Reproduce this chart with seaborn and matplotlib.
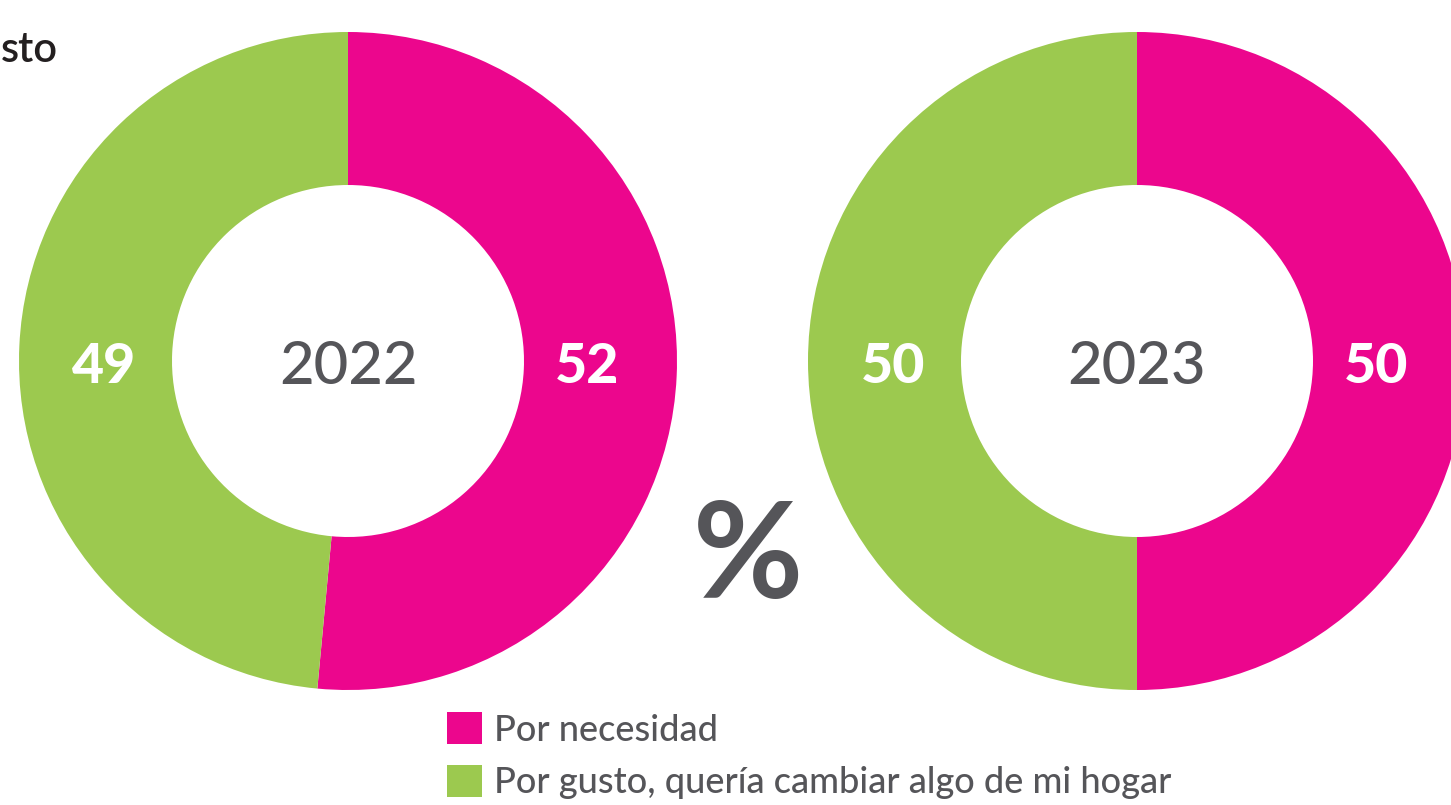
import matplotlib
matplotlib.use("Agg")
import matplotlib.pyplot as plt
import seaborn as sns

# ---- data ----
years = ["2022", "2023"]
categories = ["Por necesidad", "Por gusto, quería cambiar algo de mi hogar"]
values_2022 = [52, 49]
values_2023 = [50, 50]
series = [values_2022, values_2023]
title_fragment = "sto"
unit_text = "%"

colors = ["#EC068D", "#9CC94F"]
text_gray = "#555559"

sns.set_theme(style="white")
plt.rcParams["font.family"] = ["Lato", "DejaVu Sans"]

W, H = 1451, 805
fig = plt.figure(figsize=(W / 100, H / 100), dpi=100)
ax = fig.add_axes([0, 0, 1, 1])

centers = [(348, H - 361), (1137, H - 361)]
R_out, ring = 329, 153
label_r_right, label_r_left = 239, 244
dy = -6

wedge_handles = None
for (cx, cy), vals, yr in zip(centers, series, years):
    wedges, _ = ax.pie(vals, colors=colors, startangle=90, counterclock=False,
                       radius=R_out, center=(cx, cy), frame=True,
                       wedgeprops=dict(width=ring, linewidth=0))
    if wedge_handles is None:
        wedge_handles = wedges
    ax.text(cx, cy + dy, yr, ha="center", va="center", fontsize=43,
            fontweight="medium", color=text_gray)
    ax.text(cx + label_r_right, cy + dy, str(vals[0]), ha="center", va="center",
            fontsize=40, fontweight="black", color="white")
    ax.text(cx - label_r_left, cy + dy, str(vals[1]), ha="center", va="center",
            fontsize=40, fontweight="black", color="white")

ax.set_xlim(0, W)
ax.set_ylim(0, H)
ax.set_aspect("equal")
ax.axis("off")

ax.text(748, H - 559, unit_text, ha="center", va="center", fontsize=97,
        fontweight="bold", color=text_gray)

ax.text(1, H - 62, title_fragment, ha="left", va="baseline", fontsize=30,
        fontweight="semibold", color="#231F20")

leg = fig.legend(wedge_handles, categories, loc="upper left",
                 bbox_to_anchor=(447 / W, 1 - 712 / H),
                 frameon=False, labelcolor=text_gray,
                 prop=dict(size=26, weight="medium"),
                 handlelength=0.98, handleheight=1.0, handletextpad=0.32,
                 labelspacing=0.5, borderpad=0, borderaxespad=0)

fig.savefig("out.png", dpi=100, facecolor="white")
